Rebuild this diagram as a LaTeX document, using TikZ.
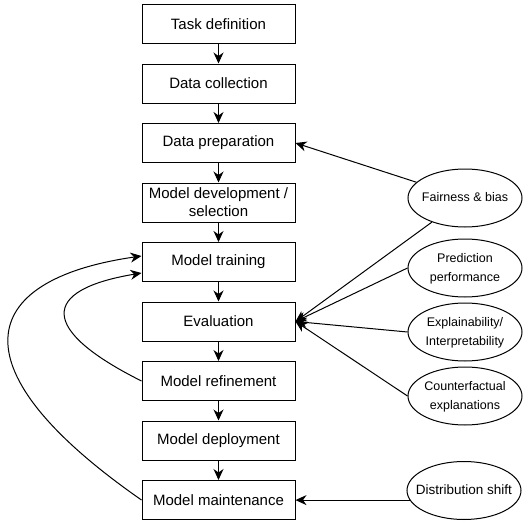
\documentclass[tikz,border=0pt]{standalone}
\usepackage{fontspec}
\setmainfont{Liberation Sans}
\usetikzlibrary{arrows.meta,shapes.geometric,calc}
\begin{document}
\begin{tikzpicture}[x=1pt,y=-1pt,
  stage/.style={draw,line width=1pt,minimum width=153pt,minimum height=39pt,
    inner sep=2pt,align=center,font=\fontsize{15}{18}\selectfont},
  factor/.style={draw,ellipse,line width=1pt,minimum width=114pt,minimum height=58pt,
    inner sep=0pt,font=\fontsize{12.5}{19}\selectfont},
  arr/.style={line width=1pt,-{Stealth[length=11pt,width=10pt,inset=3.5pt]}}]
\def\ftext#1{\makebox[0pt]{\begin{tabular}{@{}c@{}}#1\end{tabular}}}
\useasboundingbox (0,0) rectangle (523,522);
% lifecycle stages
\node[stage] (task) at (218.5,24) {Task definition};
\node[stage] (collect) at (218.5,83.5) {Data collection};
\node[stage] (prep) at (218.5,143) {Data preparation};
\node[stage] (develop) at (218.5,202.5) {Model development /\\selection};
\node[stage] (train) at (218.5,262) {Model training};
\node[stage] (eval) at (218.5,321.5) {Evaluation};
\node[stage] (refine) at (218.5,381) {Model refinement};
\node[stage] (deploy) at (218.5,440.5) {Model deployment};
\node[stage] (maint) at (218.5,500) {Model maintenance};
% concerns
\node[factor] (fair) at (465,198) {\ftext{Fairness \& bias}};
\node[factor] (pred) at (465,268) {\ftext{Prediction\\performance}};
\node[factor] (expl) at (465,332) {\ftext{Explainability/\\Interpretability}};
\node[factor] (cfact) at (465,396) {\ftext{Counterfactual\\explanations}};
\node[factor,font=\fontsize{13.5}{19}\selectfont] (shift) at (464,490.5) {\ftext{Distribution shift}};
\draw[arr] (task) -- (collect);
\draw[arr] (collect) -- (prep);
\draw[arr] (prep) -- (develop);
\draw[arr] (develop) -- (train);
\draw[arr] (train) -- (eval);
\draw[arr] (eval) -- (refine);
\draw[arr] (refine) -- (deploy);
\draw[arr] (deploy) -- (maint);
\draw[arr] (fair) -- (prep.east);
\draw[arr] (fair) -- (eval.east);
\draw[arr] (pred.west) -- (eval.east);
\draw[arr] (expl.west) -- (eval.east);
\draw[arr] (cfact.west) -- (eval.east);
\draw[arr] (shift.190) -- (shift.190 -| maint.east);
% feedback loops
\draw[arr] (refine.west) .. controls +(-102,-51) and +(-102,17) .. ($(train.west)+(0,11)$);
\draw[arr] (maint.west) .. controls +(-187,-130) and +(-167,24) .. ($(train.west)+(0,-6)$);
\end{tikzpicture}
\end{document}
